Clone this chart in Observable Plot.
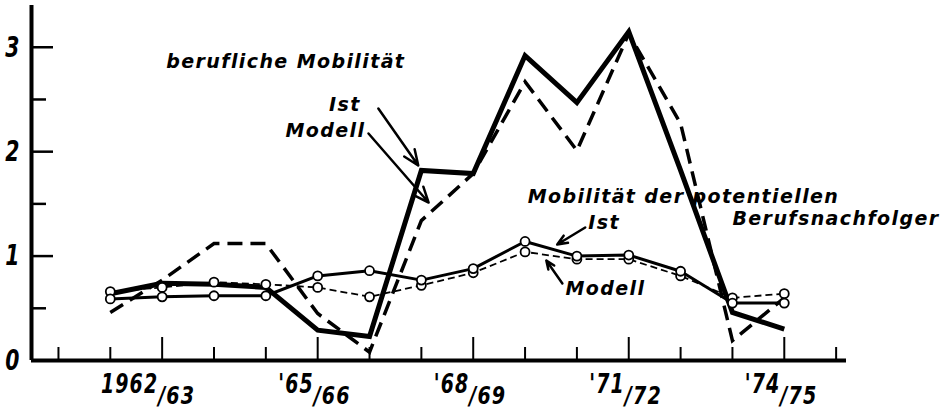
<!DOCTYPE html>
<html><head><meta charset="utf-8">
<script src="https://cdn.jsdelivr.net/npm/d3@7"></script>
<script src="https://cdn.jsdelivr.net/npm/@observablehq/plot@0.6"></script>
<style>
html,body{margin:0;padding:0;background:#fff}
#chart svg text{letter-spacing:1.4px}
</style>
</head><body><div id="chart"></div>
<script>
// Season start years (1961 = 1961/62 ... 1974 = 1974/75)
const years = [1961,1962,1963,1964,1965,1966,1967,1968,1969,1970,1971,1972,1973,1974];
// berufliche Mobilität
const berufIst    = [0.64,0.74,0.73,0.70,0.29,0.23,1.82,1.79,2.92,2.47,3.15,1.82,0.46,0.30];
const berufModell = [0.46,0.77,1.12,1.12,0.45,0.08,1.34,1.79,2.67,2.01,3.13,2.27,0.19,0.60];
// Mobilität der potentiellen Berufsnachfolger
const potIst    = [0.59,0.61,0.62,0.62,0.81,0.86,0.77,0.88,1.14,1.00,1.01,0.855,0.55,0.55];
const potModell = [0.66,0.70,0.75,0.73,0.70,0.61,0.72,0.84,1.04,0.97,0.97,0.81,0.60,0.64];

// axis definitions
const xDomain = [1959.48, 1975.2];
const yDomain = [0, 3.4];
const longTicks  = [1962,1965,1968,1971,1974];
const shortTicks = [1960,1961,1963,1964,1966,1967,1969,1970,1972,1973,1975];
const xLabelMain = ["1962","'65","'68","'71","'74"];
const xLabelSub  = ["/63","/66","/69","/72","/75"];
const yMajor = [1,2,3];
const yMinor = [0.5,1.5,2.5];
const yLabels = [0,1,2,3];

// annotations
const annoText = ["berufliche Mobilität","Ist","Modell","Mobilität der potentiellen","Ist","Berufsnachfolger","Modell"];
const annoX    = [1962.08,1965.22,1964.38,1969.05,1970.22,1973.0,1969.78];
const annoY    = [2.80,2.385,2.136,1.504,1.262,1.298,0.623];
// arrows
const arrX1 = [1966.17,1965.98,1970.16,1969.72];
const arrY1 = [2.414,2.174,1.274,0.738];
const arrX2 = [1966.94,1967.14,1969.62,1969.41];
const arrY2 = [1.868,1.513,1.111,0.958];

const rows = (vals) => years.map((yr,i) => ({year: yr, v: vals[i]}));
const xLabRows = longTicks.map((t,i) => ({x: t, y: 0, main: xLabelMain[i], sub: xLabelSub[i]}));
const annos = annoText.map((t,i) => ({x: annoX[i], y: annoY[i], t}));
const arrows = arrX1.map((d,i) => ({x1: arrX1[i], y1: arrY1[i], x2: arrX2[i], y2: arrY2[i]}));

const narrow = "'Liberation Sans Narrow','DejaVu Sans Condensed','Liberation Sans',sans-serif";
const sans = "'DejaVu Sans','Liberation Sans',sans-serif";

// horizontally condense the glyphs of a text mark (lettering style of the original)
const condense = (sx) => (index, scales, values, dims, ctx, next) => {
  const g = next(index, scales, values, dims, ctx);
  d3.select(g).selectAll("text").each(function() {
    const t = this.getAttribute("transform");
    if (t) {
      this.setAttribute("transform", t + ` scale(${sx},1)`);
    } else {
      const x = +(this.getAttribute("x") || 0), y = +(this.getAttribute("y") || 0);
      this.removeAttribute("x"); this.removeAttribute("y");
      this.setAttribute("transform", `translate(${x},${y}) scale(${sx},1)`);
    }
  });
  return g;
};

const chart = Plot.plot({
  width: 947, height: 408,
  marginLeft: 31, marginRight: 101, marginTop: 5, marginBottom: 48,
  x: {domain: xDomain, label: null},
  y: {domain: yDomain, label: null},
  style: {background: "white", color: "black"},
  marks: [
    // axis ticks
    Plot.axisX(longTicks, {anchor: "bottom", tickSize: -23, tickFormat: () => "", strokeWidth: 2, label: null}),
    Plot.axisX(shortTicks, {anchor: "bottom", tickSize: -13, tickFormat: () => "", strokeWidth: 2, label: null}),
    Plot.axisY(yMajor, {anchor: "left", tickSize: -22, tickFormat: () => "", strokeWidth: 2.5, label: null}),
    Plot.axisY(yMinor, {anchor: "left", tickSize: -15, tickFormat: () => "", strokeWidth: 2.5, label: null}),
    Plot.axisY(yLabels, {anchor: "left", tickSize: 0, tickPadding: 11, fontSize: 29, fontStyle: "italic", fontWeight: "bold", fontFamily: narrow, tickFormat: d => String(d), label: null, render: condense(0.78)}),
    // axis lines
    Plot.ruleY([yDomain[0]], {strokeWidth: 4}),
    Plot.ruleX([xDomain[0]], {strokeWidth: 4}),
    // x tick labels
    Plot.text(xLabRows, {x: "x", y: "y", text: "main", textAnchor: "end", lineAnchor: "bottom", dx: -4, dy: 32, fontSize: 27, fontStyle: "italic", fontWeight: "bold", fontFamily: narrow, render: condense(0.78)}),
    Plot.text(xLabRows, {x: "x", y: "y", text: "sub", textAnchor: "start", lineAnchor: "bottom", dx: -4, dy: 43, fontSize: 25, fontStyle: "italic", fontWeight: "bold", fontFamily: narrow, render: condense(0.85)}),
    // berufliche Mobilität
    Plot.line(rows(berufModell), {x: "year", y: "v", strokeWidth: 3.5, strokeDasharray: "15,8", strokeLinecap: "butt", strokeLinejoin: "miter", strokeMiterlimit: 4}),
    Plot.line(rows(berufIst), {x: "year", y: "v", strokeWidth: 5, strokeLinejoin: "miter", strokeMiterlimit: 4, strokeLinecap: "butt"}),
    // potentielle Berufsnachfolger
    Plot.line(rows(potModell), {x: "year", y: "v", strokeWidth: 1.8, strokeDasharray: "7,4", strokeLinecap: "butt"}),
    Plot.line(rows(potIst), {x: "year", y: "v", strokeWidth: 3}),
    Plot.dot(rows(potModell), {x: "year", y: "v", r: 4.5, fill: "white", stroke: "black", strokeWidth: 1.8}),
    Plot.dot(rows(potIst), {x: "year", y: "v", r: 4.5, fill: "white", stroke: "black", strokeWidth: 1.8}),
    // annotations
    Plot.arrow(arrows, {x1: "x1", y1: "y1", x2: "x2", y2: "y2", strokeWidth: 2.5, headLength: 10, headAngle: 45}),
    Plot.text(annos, {x: "x", y: "y", text: "t", textAnchor: "start", lineAnchor: "bottom", fontSize: 19, fontStyle: "italic", fontWeight: "bold", fontFamily: sans})
  ]
});
document.getElementById("chart").append(chart);
</script>
</body></html>
